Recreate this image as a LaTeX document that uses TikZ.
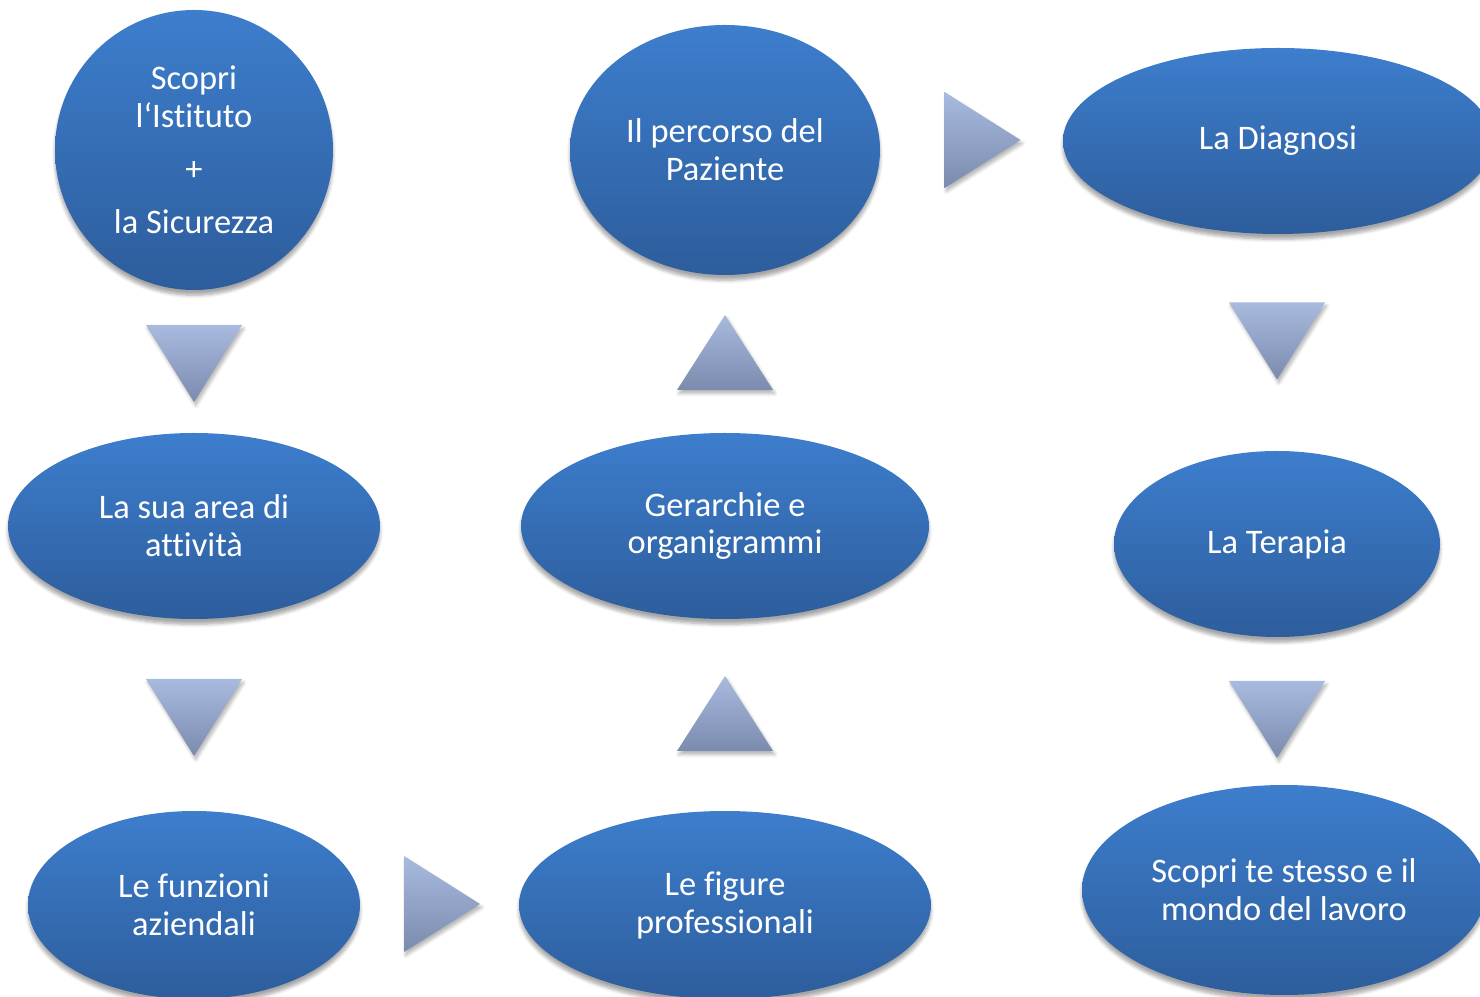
\documentclass[tikz,border=0pt]{standalone}
\usepackage{fontspec}
\setmainfont{Carlito}[Ligatures={NoCommon}]
\usetikzlibrary{shapes.geometric,shadows.blur}
\definecolor{blutop}{RGB}{61,126,205}
\definecolor{blubot}{RGB}{45,93,156}
\definecolor{tritop}{RGB}{168,186,222}
\definecolor{tribot}{RGB}{122,139,174}

\begin{document}
\begin{tikzpicture}[
        tappa/.style={ellipse,inner sep=0pt,align=center,text=white,
            top color=blutop,bottom color=blubot,
            blur shadow={shadow xshift=0pt,shadow yshift=-3pt,shadow opacity=35,shadow blur steps=6},
            font=\fontsize{19.6pt}{21.6pt}\selectfont},
        freccia/.style={top color=tritop,bottom color=tribot,
            blur shadow={shadow xshift=1pt,shadow yshift=-2pt,shadow opacity=30,shadow blur steps=5}}
    ]
        \clip (0,0) rectangle (29.6,19.92);
        \useasboundingbox (0,0) rectangle (29.6,19.92);
        % prima colonna
        \node[tappa,minimum width=5.56cm,minimum height=5.6cm] (istituto) at (3.88,16.92)
            {Scopri\\l‘Istituto\\[0.3cm]+\\[0.3cm]la Sicurezza};
        \node[tappa,minimum width=7.44cm,minimum height=3.72cm] (area) at (3.88,9.4)
            {La sua area di\\attività};
        \node[tappa,minimum width=6.64cm,minimum height=3.76cm] (funzioni) at (3.88,1.82)
            {Le funzioni\\aziendali};
        % seconda colonna
        \node[tappa,minimum width=8.24cm,minimum height=3.76cm] (figure) at (14.5,1.82)
            {Le figure\\professionali};
        \node[tappa,minimum width=8.16cm,minimum height=3.72cm] (gerarchie) at (14.5,9.4)
            {Gerarchie e\\organigrammi};
        \node[tappa,minimum width=6.2cm,minimum height=5cm] (percorso) at (14.5,16.92)
            {Il percorso del\\Paziente};
        % terza colonna
        \node[tappa,minimum width=8.6cm,minimum height=3.72cm] (diagnosi) at (25.56,17.1)
            {La Diagnosi};
        \node[tappa,minimum width=6.52cm,minimum height=3.72cm] (terapia) at (25.54,9.04)
            {La Terapia};
        \node[tappa,minimum width=8.08cm,minimum height=4.2cm] (stesso) at (25.68,2.12)
            {Scopri te stesso e il\\mondo del lavoro};
        % frecce triangolari
        \foreach \x/\y in {3.88/12.65,3.88/5.57,25.54/13.1,25.54/5.53}
            \shade[freccia] (\x-0.96,\y+0.77) -- (\x+0.96,\y+0.77) -- (\x,\y-0.77) -- cycle;
        \foreach \x/\y in {14.5/5.65,14.5/12.87}
            \shade[freccia] (\x-0.96,\y-0.75) -- (\x+0.96,\y-0.75) -- (\x,\y+0.75) -- cycle;
        \foreach \x/\y in {8.84/1.84,19.65/17.12}
            \shade[freccia] (\x-0.76,\y+0.96) -- (\x+0.76,\y) -- (\x-0.76,\y-0.96) -- cycle;
    \end{tikzpicture}
\end{document}
